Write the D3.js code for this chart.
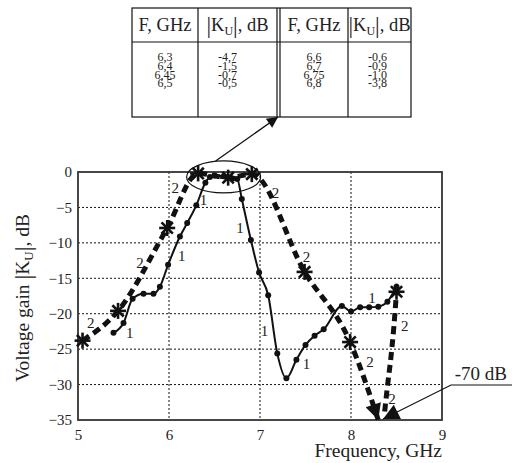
<!DOCTYPE html>
<html>
<head>
<meta charset="utf-8">
<script src="https://cdn.jsdelivr.net/npm/d3@7"></script>
<style>
  body { margin: 0; background: #fff; }
  text { font-family: "Liberation Serif", "Times New Roman", serif; fill: #222; }
</style>
</head>
<body>
<div id="chart"></div>
<script>
// curve 1 (solid line with dots)
const freq1 = [5.39, 5.5, 5.6, 5.72, 5.83, 5.9, 5.99, 6.12, 6.2, 6.3, 6.4, 6.45, 6.5, 6.6, 6.7, 6.75, 6.8,
    6.9, 6.99, 7.09, 7.19, 7.29, 7.4, 7.5, 7.6, 7.7, 7.9, 8.0, 8.1, 8.2, 8.3, 8.4, 8.5];
const gain1 = [-22.7, -21.3, -17.9, -17.2, -17.2, -16.2, -13.1, -9.1, -7.2, -4.7, -1.5, -0.7, -0.5, -0.6, -0.9, -1.0, -3.8,
    -9.6, -14.2, -17.4, -25.6, -29.1, -26.5, -24.4, -23.1, -22.2, -18.9, -19.7, -19.1, -19.1, -19.0, -18.3, -16.2];

// curve 2 (thick dashes with stars), falling part ends with an arrow at the bottom
const freq2 = [5.05, 5.44, 5.98, 6.32, 6.65, 6.91, 7.49, 7.99, 8.3];
const gain2 = [-23.8, -19.6, -7.9, -0.2, -0.8, -0.3, -14.1, -24.0, -35];
// rising part back up to the last star
const freq2b = [8.37, 8.40, 8.44, 8.47, 8.5];
const gain2b = [-33.8, -30.3, -26.0, -22.0, -16.9];
const starFreq = [5.05, 5.44, 5.98, 6.32, 6.65, 6.91, 7.49, 7.99, 8.5];
const starGain = [-23.8, -19.6, -7.9, -0.2, -0.8, -0.3, -14.1, -24.0, -16.9];

// "1" and "2" labels near the curves
const label1F = [5.57, 6.38, 6.14, 6.78, 7.05, 7.51, 8.23];
const label1G = [-22.7, -4.0, -11.8, -7.9, -22.5, -27.1, -17.8];
const label2F = [5.14, 5.68, 6.07, 7.17, 7.51, 8.21, 8.59, 8.45];
const label2G = [-21.3, -12.8, -2.2, -2.9, -12.0, -26.8, -21.8, -32.1];

const xTicks = [5, 6, 7, 8, 9];
const yTicks = [0, -5, -10, -15, -20, -25, -30, -35];

// inset table
const tableF1 = ["6,3", "6,4", "6,45", "6,5"];
const tableK1 = ["-4,7", "-1,5", "-0,7", "-0,5"];
const tableF2 = ["6,6", "6,7", "6,75", "6,8"];
const tableK2 = ["-0,6", "-0,9", "-1,0", "-3,8"];

const width = 512, height = 463;
const margin = {left: 78, right: 70, top: 172, bottom: 43};
const serif = "'Liberation Serif', 'Times New Roman', serif";

let svg = d3.select("#chart").append("svg").attr("width", width).attr("height", height);
svg.append("rect").attr("width", width).attr("height", height).attr("fill", "#fff");

let x = d3.scaleLinear().domain([5, 9]).range([margin.left, width - margin.right]);
let y = d3.scaleLinear().domain([-35, 0]).range([height - margin.bottom, margin.top]);

let defs = svg.append("defs");
defs.append("marker").attr("id", "bigArrow").attr("viewBox", "0 0 10 10")
    .attr("refX", 10).attr("refY", 5).attr("markerWidth", 22).attr("markerHeight", 16)
    .attr("markerUnits", "userSpaceOnUse").attr("orient", "auto")
    .append("path").attr("d", "M0,0 L10,5 L0,10 Z").attr("fill", "#111");
defs.append("marker").attr("id", "smallArrow").attr("viewBox", "0 0 10 10")
    .attr("refX", 10).attr("refY", 5).attr("markerWidth", 16).attr("markerHeight", 11)
    .attr("markerUnits", "userSpaceOnUse").attr("orient", "auto")
    .append("path").attr("d", "M0,0 L10,5 L0,10 Z").attr("fill", "#111");

// dotted grid
let grid = svg.append("g");
grid.selectAll("line.gx").data(xTicks.slice(1, -1)).join("line")
    .attr("x1", d => x(d)).attr("x2", d => x(d)).attr("y1", y(0)).attr("y2", y(-35))
    .attr("stroke", "#111").attr("stroke-width", 1).attr("stroke-dasharray", "2,2");
grid.selectAll("line.gy").data(yTicks.slice(1, -1)).join("line")
    .attr("x1", x(5)).attr("x2", x(9)).attr("y1", d => y(d)).attr("y2", d => y(d))
    .attr("stroke", "#111").attr("stroke-width", 1).attr("stroke-dasharray", "2,2");

// frame
svg.append("rect").attr("x", x(5)).attr("y", y(0)).attr("width", x(9) - x(5)).attr("height", y(-35) - y(0))
    .attr("fill", "none").attr("stroke", "#333").attr("stroke-width", 1.8);

// axes (ticks hidden, only labels)
let xAxis = svg.append("g").attr("transform", "translate(0," + y(-35) + ")")
    .call(d3.axisBottom(x).tickValues(xTicks).tickFormat(d3.format("d")).tickSize(0).tickPadding(9));
let yAxis = svg.append("g").attr("transform", "translate(" + x(5) + ",0)")
    .call(d3.axisLeft(y).tickValues(yTicks).tickFormat(d3.format("d")).tickSize(0).tickPadding(6));
[xAxis, yAxis].forEach(a => {
    a.attr("font-family", null);
    a.select(".domain").remove();
    a.selectAll("text").attr("font-size", "15px").style("font-family", serif).attr("fill", "#222");
});

let smooth = d3.line().x(d => x(d[0])).y(d => y(d[1])).curve(d3.curveMonotoneX);

// curve 1
let pts1 = freq1.map((f, i) => [f, gain1[i]]);
svg.append("path").attr("d", smooth(pts1)).attr("fill", "none").attr("stroke", "#111").attr("stroke-width", 2);
svg.selectAll("circle.c1").data(pts1).join("circle")
    .attr("cx", d => x(d[0])).attr("cy", d => y(d[1])).attr("r", 3).attr("fill", "#111");

// curve 2
let pts2 = freq2.map((f, i) => [f, gain2[i]]);
let pts2b = freq2b.map((f, i) => [f, gain2b[i]]);
svg.append("path").attr("d", smooth(pts2)).attr("fill", "none").attr("stroke", "#111")
    .attr("stroke-width", 5).attr("stroke-dasharray", "8,5").attr("marker-end", "url(#bigArrow)");
svg.append("path").attr("d", smooth(pts2b)).attr("fill", "none").attr("stroke", "#111")
    .attr("stroke-width", 5).attr("stroke-dasharray", "8,5");

// asterisk markers
let stars = svg.selectAll("g.star").data(starFreq.map((f, i) => [f, starGain[i]])).join("g")
    .attr("transform", d => "translate(" + x(d[0]) + "," + y(d[1]) + ")");
[0, 45, 90, 135].forEach(a => {
    stars.append("line").attr("x1", -8).attr("x2", 8).attr("y1", 0).attr("y2", 0)
        .attr("transform", "rotate(" + a + ")").attr("stroke", "#111").attr("stroke-width", 2.6);
});

// curve number labels
svg.selectAll("text.l1").data(label1F.map((f, i) => [f, label1G[i]])).join("text")
    .attr("x", d => x(d[0])).attr("y", d => y(d[1]) + 5).attr("text-anchor", "middle")
    .attr("font-size", "15px").text("1");
svg.selectAll("text.l2").data(label2F.map((f, i) => [f, label2G[i]])).join("text")
    .attr("x", d => x(d[0])).attr("y", d => y(d[1]) + 5).attr("text-anchor", "middle")
    .attr("font-size", "15px").text("2");

// ellipse round the top of the curves and arrow to the table
svg.append("ellipse").attr("cx", x(6.6)).attr("cy", y(-0.7)).attr("rx", 37).attr("ry", 16)
    .attr("fill", "none").attr("stroke", "#111").attr("stroke-width", 1.2);
svg.append("line").attr("x1", x(6.6) - 8).attr("y1", y(-0.7) - 16).attr("x2", 278).attr("y2", 117)
    .attr("stroke", "#111").attr("stroke-width", 1.3).attr("marker-end", "url(#smallArrow)");

// -70 dB leader
svg.append("polyline")
    .attr("points", [[width, y(-35) - 35], [x(8.33) + 70, y(-35) - 35], [x(8.33) + 2, y(-35) - 1]].join(" "))
    .attr("fill", "none").attr("stroke", "#111").attr("stroke-width", 1.2).attr("marker-end", "url(#bigArrow)");
svg.append("text").attr("x", 507).attr("y", y(-35) - 40).attr("text-anchor", "end")
    .attr("font-size", "19px").text("-70 dB");

// axis titles
svg.append("text").attr("x", x(9)).attr("y", 457).attr("text-anchor", "end")
    .attr("font-size", "19.5px").text("Frequency, GHz");
let yt = svg.append("text").attr("transform", "translate(29," + ((y(0) + y(-35)) / 2 + 2) + ") rotate(-90)")
    .attr("text-anchor", "middle").attr("font-size", "19.5px");
yt.append("tspan").text("Voltage gain ");
yt.append("tspan").attr("font-size", "24px").attr("dy", 1.5).text("|");
yt.append("tspan").attr("dy", -1.5).text("K");
yt.append("tspan").attr("font-size", "13px").attr("dy", 4).text("U");
yt.append("tspan").attr("font-size", "24px").attr("dy", -2.5).text("|");
yt.append("tspan").attr("dy", -1.5).text(", dB");

// inset table
let colX = [132, 198, 277, 348, 411];
let table = svg.append("g");
table.append("rect").attr("x", colX[0]).attr("y", 8).attr("width", colX[4] - colX[0]).attr("height", 109)
    .attr("fill", "#fff").attr("stroke", "#111").attr("stroke-width", 1.2);
table.append("line").attr("x1", colX[0]).attr("x2", colX[4]).attr("y1", 42).attr("y2", 42)
    .attr("stroke", "#111").attr("stroke-width", 1.2);
[colX[1], colX[2], colX[2] + 3, colX[3]].forEach(cx => {
    table.append("line").attr("x1", cx).attr("x2", cx).attr("y1", 8).attr("y2", 117)
        .attr("stroke", "#111").attr("stroke-width", 1.2);
});
let colCenters = [(colX[0] + colX[1]) / 2, (colX[1] + colX[2]) / 2, (colX[2] + 3 + colX[3]) / 2, (colX[3] + colX[4]) / 2];
[0, 2].forEach(c => {
    table.append("text").attr("x", colCenters[c]).attr("y", 31).attr("text-anchor", "middle")
        .attr("font-size", "18.5px").text("F, GHz");
});
[1, 3].forEach(c => {
    let h = table.append("text").attr("x", colCenters[c]).attr("y", 31).attr("text-anchor", "middle")
        .attr("font-size", "18.5px");
    h.append("tspan").attr("font-size", "23px").attr("dy", 1.5).text("|");
    h.append("tspan").attr("dy", -1.5).text("K");
    h.append("tspan").attr("font-size", "12px").attr("dy", 4).text("U");
    h.append("tspan").attr("font-size", "23px").attr("dy", -2.5).text("|");
    h.append("tspan").attr("dy", -1.5).text(", dB");
});
let dataCenters = [colCenters[0], colCenters[1] - 10, colCenters[2], colCenters[3] - 2];
[tableF1, tableK1, tableF2, tableK2].forEach((col, c) => {
    table.selectAll("text.t" + c).data(col).join("text")
        .attr("x", dataCenters[c]).attr("y", (d, i) => 61 + i * 8.8).attr("text-anchor", "middle")
        .attr("font-size", "12px").text(d => d);
});
</script>
</body>
</html>
